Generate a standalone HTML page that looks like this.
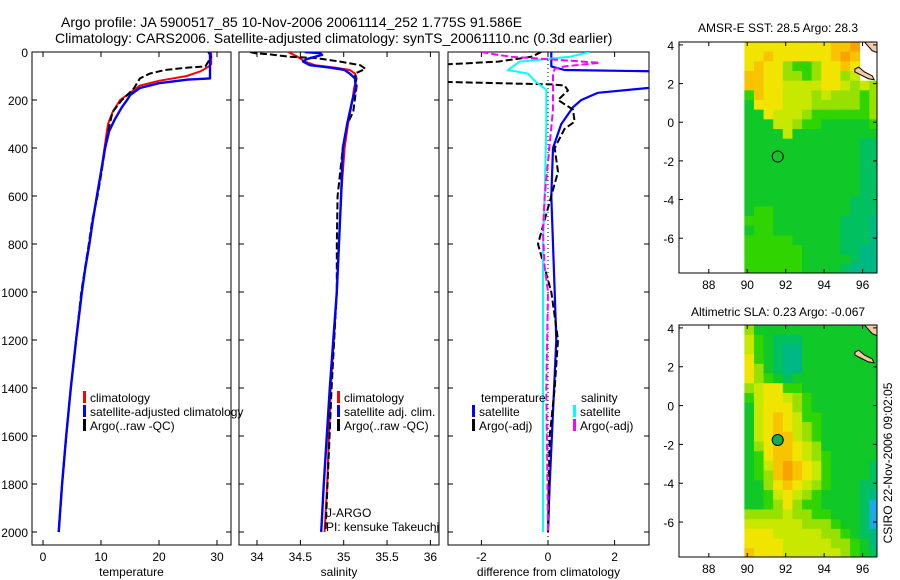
<!DOCTYPE html>
<html><head><meta charset="utf-8">
<style>
html,body{margin:0;padding:0;background:#fff;}
svg{display:block;font-family:"Liberation Sans",sans-serif;}
</style></head>
<body>
<svg id="fig" width="900" height="580" viewBox="0 0 900 580" xmlns="http://www.w3.org/2000/svg">
<rect width="900" height="580" fill="#fff"/>
<text x="61" y="27" font-size="14">Argo profile: JA 5900517_85 10-Nov-2006 20061114_252 1.775S 91.586E</text>
<text x="55" y="43" font-size="14">Climatology: CARS2006. Satellite-adjusted climatology: synTS_20061110.nc (0.3d earlier)</text>
<text x="778" y="32" font-size="12" text-anchor="middle">AMSR-E SST: 28.5 Argo: 28.3</text>
<text x="778" y="316" font-size="12" text-anchor="middle">Altimetric SLA: 0.23 Argo: -0.067</text>
<text transform="translate(892,463) rotate(-90)" font-size="12" text-anchor="middle">CSIRO 22-Nov-2006 09:02:05</text>
<g id="plots"></g>
</svg>
<script>
// ---------- profile data (depth in dbar) ----------
const tClimDepth = [0,50,60,80,100,120,140,170,200,250,300,400,500,600,700,800,900,1000,1200,1400,1600,1800,2000];
const tClimVal   = [29,29,28.6,27.2,24.8,20,16.7,15,13.3,12,11.2,10.6,10,9.3,8.6,8,7.3,6.7,5.7,4.8,4.0,3.3,2.7];
const tSatDepth  = [0,110,115,130,150,180,200,230,280,330,400,500,600,700,800,900,1000,1200,1400,1600,1800,2000];
const tSatVal    = [28.8,28.8,25,20,16.7,15,14.5,13.6,12.4,11.4,10.7,10,9.3,8.6,8,7.3,6.7,5.7,4.8,4.0,3.3,2.7];
const tArgoDepth = [0,20,60,65,75,90,110,150,180,200,250,300,400,500,600,700,800,1000,1200,1400,1600,1800,2000];
const tArgoVal   = [28.5,29,28,25,21,18.4,16.7,15.7,14.5,13.6,12,11.5,10.7,10.1,9.4,8.5,7.9,6.6,5.7,4.8,4.0,3.3,2.7];

const sClimDepth = [0,20,40,55,65,75,90,110,150,200,300,400,600,1000,1400,1800,2000];
const sClimVal   = [34.36,34.47,34.55,34.67,34.9,35.07,35.13,35.15,35.12,35.1,35.05,35.01,34.97,34.92,34.85,34.81,34.78];
const sSatDepth  = [0,5,12,20,30,40,55,65,75,90,110,150,200,300,400,600,1000,1400,1800,2000];
const sSatVal    = [34.55,34.73,34.75,34.67,34.57,34.53,34.61,34.84,35.01,35.07,35.13,35.14,35.1,35.04,34.99,34.97,34.92,34.84,34.77,34.74];
const sArgoDepth = [0,5,10,20,25,40,55,70,90,140,250,300,400,600,800,1000,1400,2000];
const sArgoVal   = [33.92,33.98,34.15,34.38,34.67,34.96,35.19,35.25,35.13,35.15,35.11,35.04,34.99,34.93,34.92,34.92,34.86,34.79];

const dTSatDepth  = [0,60,75,82,140,150,170,200,230,300,400,600,1000,1200,1500,1800,2000];
const dTSatVal    = [0.1,0.1,0.5,4,4,3,1.5,1.0,0.75,0.4,0.15,0.1,0.2,0.25,0.15,0.05,0];
const dTArgoDepth = [0,20,40,55,60,120,125,135,140,160,200,240,290,320,400,500,600,800,1000,1200,1400,1600,2000];
const dTArgoVal   = [-0.2,-0.5,-1.5,-3.5,-5,-5,-3,0.1,0.5,0.6,0.3,0.75,0.8,0.5,0.2,0.3,0.1,-0.3,0.1,0.3,0.2,0.05,0];
const dSSatDepth  = [0,20,40,75,90,120,158,300,600,800,1200,1500,2000];
const dSSatVal    = [1.25,0.65,-0.85,-1.2,-0.6,-0.4,-0.05,-0.05,-0.1,-0.15,-0.15,-0.15,-0.15];
const dSArgoDepth = [0,10,20,30,45,60,70,90,240,600,750,900,1000,1400,2000];
const dSArgoVal   = [-2,-1.6,-1.1,0,1.55,0.5,0.2,0.15,0.15,-0.1,-0.15,-0.1,0,-0.05,0];

// ---------- map data (rows from lat 4.15 southward, 0.5deg cells from lon 89.85) ----------
const sstRows = ["777777777889..","778777777898..","787754457787..","887755457756..","88776666776565",
"48776665655545","37776665555545","33766654444445","33366544333334","33336333333333",
"33333333333322","33333333333322","33333333333322","33333333333322","33333333333322",
"33333333333322","33333333333222","34433333333222","44433333332221","34433333332221",
"44444333332221","44444433332211","44444433333211","44444433332111"];
const slaRows = ["53333333333333","64322233333333","64321133333333","74321133333333","75321133333333",
"75432333333333","56774433333333","46776543333333","36777543333333","36787644333333",
"36787654333333","36788654333333","35788765333333","34788765433333","34689876433332",
"34589876433332","33578765433322","33467654333321","33457544333320","55556554433320",
"66666655543320","77766666554321","77776666655431","87776666665432"];
const levelColors = ["#1ea8e8","#00b884","#00c060","#10c828","#30d400","#98e000","#c8e800","#f0e400","#f8c400","#f8a400"];
const argoLon = [91.586], argoLat = [-1.775];

const NS="http://www.w3.org/2000/svg";
const G=document.getElementById('plots');
function mk(tag,attrs,parent){const e=document.createElementNS(NS,tag);for(const k in attrs)e.setAttribute(k,attrs[k]);(parent||G).appendChild(e);return e;}
function txt(x,y,s,size,anchor,parent){const t=mk('text',{x:x,y:y,'font-size':size,'text-anchor':anchor||'start'},parent);t.textContent=s;return t;}

const Y0=52,DSC=0.24;
const yD=d=>Y0+d*DSC;

function panel(name,x0,x1,xs,xticks,xlabel,showY){
  const g=mk('g',{});
  
  
  const id='clip-'+name;
  const cp=mk('clipPath',{id:id},g);mk('rect',{x:x0,y:Y0,width:x1-x0,height:545-Y0},cp);
  const box=mk('rect',{x:x0,y:Y0,width:x1-x0,height:545-Y0,fill:'none',stroke:'#000','stroke-width':1},g);
  
  
  xticks.forEach(v=>{const x=xs(v);
    mk('line',{x1:x,x2:x,y1:545,y2:540,stroke:'#000'},g);
    mk('line',{x1:x,x2:x,y1:Y0,y2:Y0+5,stroke:'#000'},g);
    const t=txt(x,561,String(v),12,'middle',g);
    
    });
  for(let d=0;d<=2000;d+=200){const y=yD(d);
    mk('line',{x1:x0,x2:x0+5,y1:y,y2:y,stroke:'#000'},g);
    mk('line',{x1:x1,x2:x1-5,y1:y,y2:y,stroke:'#000'},g);
    if(showY){const t=txt(x0-4,y+5,String(d),12,'end',g);
      
      }}
  const xl=txt((x0+x1)/2,576,xlabel,12,'middle',g);
  
  
  const inner=mk('g',{'clip-path':'url(#'+id+')'},g);
  return inner;
}
function line(parent,name,depths,vals,xs,color,w,dash){
  const pts=depths.map((d,i)=>xs(vals[i]).toFixed(1)+','+yD(d).toFixed(1)).join(' ');
  const p=mk('polyline',{points:pts,fill:'none',stroke:color,'stroke-width':w,'stroke-dasharray':dash||'none','stroke-linejoin':'round'},parent);
  
  
}
function legend(x,y,color,label){
  const b=mk('rect',{x:x,y:y-6,width:3,height:12,fill:color});
  
  
  const t=txt(x+7,y+5,label,12);
  
  
}

// Panel 1: temperature
const xT=t=>43+5.8*t;
const p1=panel('temperature-panel',32,231,xT,[0,10,20,30],'temperature',true);
line(p1,'temp-climatology',tClimDepth,tClimVal,xT,'#f00',2);
line(p1,'temp-argo',tArgoDepth,tArgoVal,xT,'#000',2,'7,3');
line(p1,'temp-satellite-adjusted',tSatDepth,tSatVal,xT,'#00f',2.4);
legend(83,397,'#f00','climatology');legend(83,411,'#00f','satellite-adjusted climatology');legend(83,425,'#000','Argo(..raw -QC)');

// Panel 2: salinity
const xS=s=>257+86.7*(s-34);
const p2=panel('salinity-panel',239,439,xS,[34,34.5,35,35.5,36],'salinity',false);
line(p2,'sal-climatology',sClimDepth,sClimVal,xS,'#f00',2);
line(p2,'sal-argo',sArgoDepth,sArgoVal,xS,'#000',2,'7,3');
line(p2,'sal-satellite-adjusted',sSatDepth,sSatVal,xS,'#00f',2.4);
legend(337,397,'#f00','climatology');legend(337,411,'#00f','satellite adj. clim.');legend(337,425,'#000','Argo(..raw -QC)');
txt(326,517,'J-ARGO',12);
txt(326,531,'PI: kensuke Takeuchi',12);

// Panel 3: differences
const xDf=d=>548+33.3*d;
const p3=panel('difference-panel',448,649,xDf,[-2,0,2],'difference from climatology',false);
mk('line',{x1:xDf(0),x2:xDf(0),y1:Y0,y2:545,stroke:'#000','stroke-dasharray':'1,3'},p3);
line(p3,'diff-temp-satellite',dTSatDepth,dTSatVal,xDf,'#00f',2.2);
line(p3,'diff-temp-argo',dTArgoDepth,dTArgoVal,xDf,'#000',2,'7,3');
line(p3,'diff-sal-satellite',dSSatDepth,dSSatVal,xDf,'#0ff',2);
line(p3,'diff-sal-argo',dSArgoDepth,dSArgoVal,xDf,'#f0f',2,'7,3');
txt(481,402,'temperature',12);txt(581,402,'salinity',12);
legend(472,411,'#00f','satellite');legend(472,425,'#000','Argo(-adj)');
legend(573,411,'#0ff','satellite');legend(573,425,'#f0f','Argo(-adj)');

// Maps
function map(name,top,bottom,rows,filledDot){
  const L=679,R=877,lonMin=86.45,lonMax=96.75,latTop=4.15;
  const sx=(R-L)/(lonMax-lonMin);
  const sy=(bottom-top)/(latTop-(-7.8));
  const X=lo=>L+(lo-lonMin)*sx, Y=la=>top+(latTop-la)*sy;
  const g=mk('g',{});
  
  
  const id='clip-'+name;
  const cp=mk('clipPath',{id:id},g);mk('rect',{x:L,y:top,width:R-L,height:bottom-top},cp);
  const inner=mk('g',{'clip-path':'url(#'+id+')'},g);
  rows.forEach((row,r)=>{for(let c=0;c<row.length;c++){const ch=row[c];if(ch==='.')continue;
    const lo=89.85+c*0.5, la=latTop-r*0.5;
    const cell=mk('rect',{x:X(lo).toFixed(2),y:Y(la).toFixed(2),width:(0.5*sx+0.4).toFixed(2),height:(0.5*sy+0.4).toFixed(2),fill:levelColors[+ch]},inner);
    
    }});
  // land
  mk('polygon',{points:[[96.1,4.15],[96.75,4.15],[96.75,3.6],[96.5,3.7]].map(p=>X(p[0])+','+Y(p[1])).join(' '),fill:'#f8c8a0',stroke:'#000','stroke-width':1},inner);
  mk('polygon',{points:[[95.6,2.75],[95.8,2.85],[96.1,2.6],[96.5,2.4],[96.6,2.2],[96.3,2.25],[95.9,2.45],[95.6,2.6]].map(p=>X(p[0])+','+Y(p[1])).join(' '),fill:'#f8c8a0',stroke:'#000','stroke-width':1},inner);
  const dot=mk('circle',{cx:X(argoLon[0]),cy:Y(argoLat[0]),r:5.5,fill:filledDot?'#10b050':'none',stroke:'#000','stroke-width':1},inner);
  
  
  mk('rect',{x:L,y:top,width:R-L,height:bottom-top,fill:'none',stroke:'#000'},g);
  [88,90,92,94,96].forEach(v=>{const x=X(v);
    mk('line',{x1:x,x2:x,y1:bottom,y2:bottom-4,stroke:'#000'},g);
    mk('line',{x1:x,x2:x,y1:top,y2:top+4,stroke:'#000'},g);
    txt(x,bottom+16,String(v),12,'middle',g);});
  [4,2,0,-2,-4,-6].forEach(v=>{const y=Y(v);
    mk('line',{x1:L,x2:L+4,y1:y,y2:y,stroke:'#000'},g);
    mk('line',{x1:R,x2:R-4,y1:y,y2:y,stroke:'#000'},g);
    txt(L-5,y+5,String(v),12,'end',g);});
}
map('sst-map',42,273,sstRows,false);
map('sla-map',325,557,slaRows,true);
</script>
</body></html>
